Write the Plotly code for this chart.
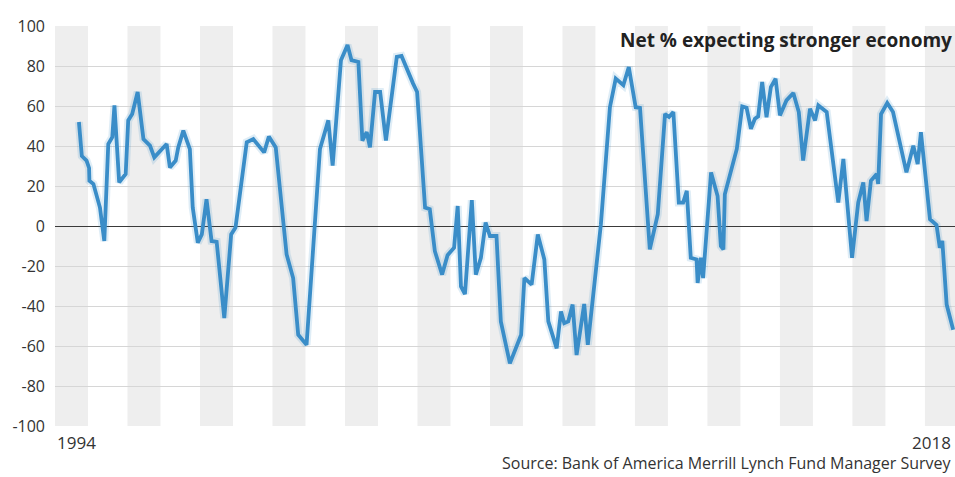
import plotly.graph_objects as go

# Decimal years and net % values
years = [1994.66, 1994.74, 1994.87, 1994.94, 1994.95, 1995.06, 1995.24, 1995.36, 1995.47, 1995.58,
         1995.64, 1995.77, 1995.95, 1996.02, 1996.13, 1996.28, 1996.44, 1996.62, 1996.74, 1996.92,
         1997.08, 1997.17, 1997.33, 1997.40, 1997.54, 1997.72, 1997.80, 1997.94, 1998.05, 1998.18,
         1998.32, 1998.46, 1998.67, 1998.86, 1998.98, 1999.29, 1999.47, 1999.77, 1999.90, 2000.09,
         2000.39, 2000.57, 2000.71, 2000.94, 2001.31, 2001.54, 2001.66, 2001.89, 2002.07, 2002.18,
         2002.37, 2002.48, 2002.60, 2002.69, 2002.83, 2002.97, 2003.13, 2003.43, 2003.56, 2003.88,
         2003.99, 2004.21, 2004.34, 2004.48, 2004.68, 2004.83, 2005.01, 2005.11, 2005.20, 2005.31,
         2005.50, 2005.61, 2005.75, 2005.88, 2006.00, 2006.18, 2006.30, 2006.55, 2006.86, 2006.95,
         2007.15, 2007.32, 2007.50, 2007.61, 2007.84, 2007.96, 2008.05, 2008.16, 2008.28, 2008.39,
         2008.60, 2008.70, 2008.85, 2009.06, 2009.31, 2009.47, 2009.68, 2009.83, 2010.02, 2010.14,
         2010.41, 2010.63, 2010.83, 2010.94, 2011.06, 2011.21, 2011.33, 2011.43, 2011.54, 2011.70,
         2011.73, 2011.82, 2011.88, 2012.10, 2012.28, 2012.37, 2012.44, 2012.48, 2012.81, 2012.96,
         2013.08, 2013.20, 2013.31, 2013.40, 2013.51, 2013.63, 2013.75, 2013.88, 2014.00, 2014.18,
         2014.37, 2014.52, 2014.64, 2014.83, 2014.97, 2015.06, 2015.29, 2015.61, 2015.75, 2015.99,
         2016.16, 2016.30, 2016.39, 2016.51, 2016.67, 2016.71, 2016.79, 2016.96, 2017.12, 2017.49,
         2017.68, 2017.80, 2017.89, 2018.14, 2018.32, 2018.41, 2018.48, 2018.60, 2018.78]

net_pct = [52, 35, 32.7, 29, 22.6, 21, 9.2, -7.5, 41, 44.4,
           60.3, 21.8, 26, 52.8, 56, 67, 43.5, 40.2, 34.3, 37.7,
           41, 29.3, 32.7, 39.3, 47.7, 38.5, 9.2, -8.4, -4.2, 13.4,
           -7.5, -7.9, -46, -4.2, -0.8, 41.9, 43.5, 36.8, 44.7, 39.3,
           -14.2, -26, -54.4, -59.4, 38.5, 52.8, 30.2, 82.9, 90.5, 82.9,
           82, 42.7, 46.9, 39.3, 67, 67, 42.7, 84.6, 85, 71.2,
           67, 9.2, 8.4, -12.6, -24.3, -14.6, -10.9, 10, -30.2, -34,
           12.9, -24.3, -15.9, 1.7, -5, -5, -47.7, -68.7, -54.4, -26,
           -29.3, -4.2, -16.7, -47.7, -61.2, -42.7, -48.6, -47.7, -39.3, -64.5,
           -39, -59.4, -34.3, 0.8, 59.4, 73.7, 70.4, 79.5, 59.4, 59.1,
           -11.7, 5.9, 56, 54.5, 57, 11.7, 11.7, 17.6, -15.9, -16.7,
           -28.5, -15.9, -26, 26.8, 15, -10, -11.7, 15.9, 38.5, 59.8,
           59.1, 48.6, 53.6, 54.8, 72, 54.4, 69.5, 73.7, 55.3, 62.8,
           66.5, 57, 32.7, 58.6, 52.8, 60.3, 57, 11.7, 33.5, -15.9,
           11.7, 21.8, 2.5, 22.6, 26, 21, 56, 61.5, 57, 26.8,
           40.2, 31, 46.9, 3.4, 0.5, -10.9, -7.5, -39.3, -51.9]

stripe_years = [1994, 1996, 1998, 2000, 2002, 2004, 2006, 2008, 2010, 2012, 2014, 2016, 2018]
y_ticks = [-100, -80, -60, -40, -20, 0, 20, 40, 60, 80, 100]

X_MIN, X_MAX = 1994, 2018.83
FONT = "Open Sans"
LINE_COLOR = "#3a8dc8"

fig = go.Figure()
fig.add_trace(go.Scatter(x=years, y=net_pct, mode="lines",
                         line=dict(color="rgba(58,141,200,0.16)", width=8),
                         hoverinfo="skip", showlegend=False))
fig.add_trace(go.Scatter(x=years, y=net_pct, mode="lines",
                         line=dict(color=LINE_COLOR, width=3.8),
                         showlegend=False))

for sy in stripe_years:
    fig.add_shape(type="rect", xref="x", yref="y",
                  x0=sy, x1=min(sy + 0.91, X_MAX), y0=-100, y1=100,
                  fillcolor="#eeeeee", line=dict(width=0), layer="below")

fig.update_xaxes(range=[X_MIN, X_MAX], showgrid=False, zeroline=False,
                 showticklabels=False, ticks="", showline=False)
fig.update_yaxes(range=[-100, 100], tickvals=y_ticks, ticktext=[str(v) for v in y_ticks],
                 showgrid=True, gridcolor="#d6d6d6", gridwidth=1,
                 zeroline=True, zerolinecolor="#3a3a3a", zerolinewidth=1.2,
                 ticks="", ticklabelstandoff=9,
                 tickfont=dict(family=FONT, size=16, color="#333333"))

fig.add_annotation(text="1994", xref="x", yref="paper", x=X_MIN, y=0, yshift=-3,
                   xanchor="left", yanchor="top", showarrow=False,
                   font=dict(family=FONT, size=17, color="#333333"))
fig.add_annotation(text="2018", xref="paper", yref="paper", x=1, y=0, xshift=-2, yshift=-3,
                   xanchor="right", yanchor="top", showarrow=False,
                   font=dict(family=FONT, size=17, color="#333333"))
fig.add_annotation(text="<b>Net % expecting stronger economy</b>", xref="paper", yref="paper",
                   x=1, y=1, xshift=-1, yshift=1, xanchor="right", yanchor="top", showarrow=False,
                   font=dict(family=FONT, size=19, color="#222222"))
fig.add_annotation(text="Source: Bank of America Merrill Lynch Fund Manager Survey",
                   xref="paper", yref="paper", x=1, y=0, xshift=-1, yshift=-50,
                   xanchor="right", yanchor="bottom", showarrow=False,
                   font=dict(family=FONT, size=16, color="#333333"))

fig.update_layout(width=955, height=477, margin=dict(l=55, r=0, t=26, b=51),
                  paper_bgcolor="white", plot_bgcolor="white")

fig.write_html("out.html")
